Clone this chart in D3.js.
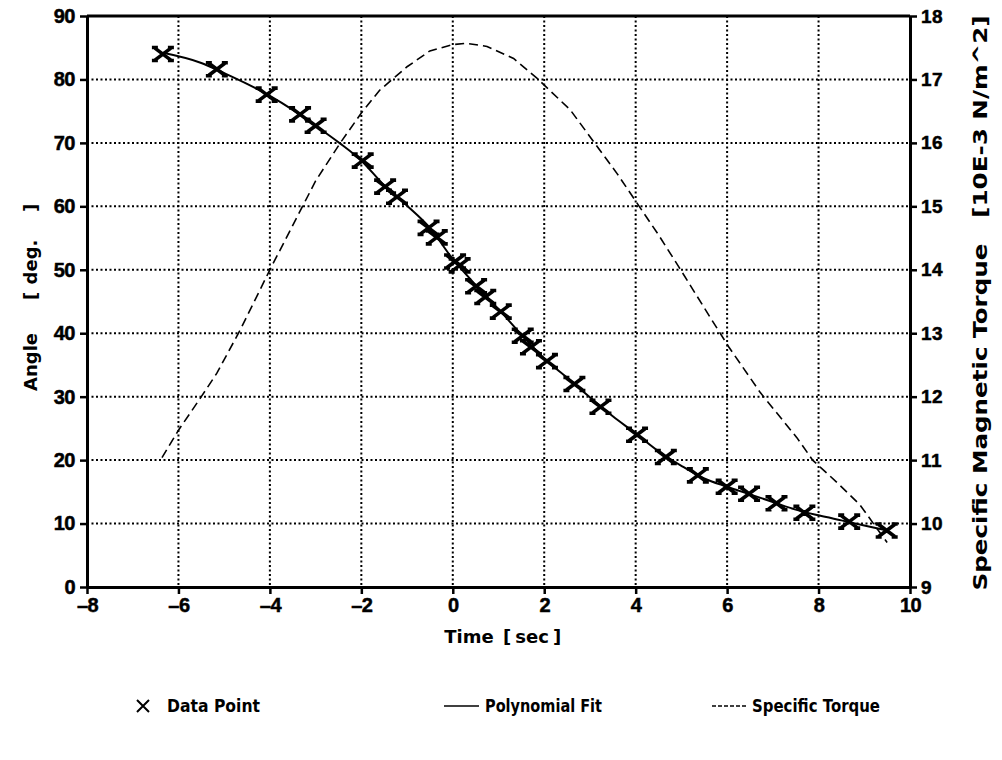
<!DOCTYPE html>
<html>
<head>
<meta charset="utf-8">
<script src="https://cdn.jsdelivr.net/npm/d3@7"></script>
<style>
  body { margin: 0; background: #fff; }
  svg { display: block; }
</style>
</head>
<body>
<svg id="chart" width="1002" height="760"></svg>
<script>
// measured points (angle vs time)
const dataTime  = [-6.34, -5.16, -4.07, -3.34, -3.0, -1.97, -1.48, -1.22, -0.53, -0.35, 0.05, 0.15, 0.51, 0.71, 1.05, 1.53, 1.71, 2.06, 2.66, 3.23, 4.03, 4.66, 5.36, 5.99, 6.48, 7.08, 7.69, 8.67, 9.49];
const dataAngle = [84.0, 81.6, 77.6, 74.5, 72.7, 67.2, 63.1, 61.5, 56.6, 55.1, 51.3, 50.7, 47.4, 45.7, 43.4, 39.6, 37.8, 35.6, 32.0, 28.4, 24.0, 20.5, 17.6, 15.8, 14.7, 13.2, 11.7, 10.3, 8.9];

// polynomial fit curve
const fitTime  = [-6.34, -5.5, -5, -4.5, -4, -3.5, -3, -2.5, -2, -1.5, -1, -0.5, 0, 0.5, 1, 1.5, 2, 2.5, 3, 3.5, 4, 4.5, 5, 5.5, 6, 6.5, 7, 7.5, 8, 8.5, 9, 9.5];
const fitAngle = [84.2, 82.6, 81.0, 79.3, 77.4, 75.2, 72.7, 70.1, 67.2, 63.3, 60.1, 56.6, 51.7, 47.6, 43.8, 39.8, 36.0, 33.0, 29.9, 26.9, 24.2, 21.4, 19.1, 17.1, 15.8, 14.6, 13.4, 12.2, 11.3, 10.5, 9.7, 8.9];

// specific magnetic torque (right axis)
const torqueTime = [-6.36, -6.0, -5.5, -5.16, -4.65, -4.0, -3.5, -3.0, -2.46, -2.0, -1.6, -1.0, -0.5, 0.0, 0.3, 0.75, 1.33, 1.84, 2.57, 3.08, 3.59, 4.03, 4.5, 4.94, 5.5, 6.03, 6.73, 7.53, 7.87, 8.4, 8.9, 9.5];
const torque     = [11.04, 11.47, 12.0, 12.37, 13.05, 14.0, 14.7, 15.4, 16.0, 16.47, 16.83, 17.2, 17.45, 17.55, 17.57, 17.52, 17.33, 17.02, 16.52, 16.02, 15.52, 15.05, 14.55, 14.05, 13.4, 12.79, 12.06, 11.35, 11.0, 10.65, 10.3, 9.7];

const xTicks = [-8, -6, -4, -2, 0, 2, 4, 6, 8, 10];
const yTicks = [0, 10, 20, 30, 40, 50, 60, 70, 80, 90];
const y2Ticks = [9, 10, 11, 12, 13, 14, 15, 16, 17, 18];

const svg = d3.select('#chart');
const pLeft = 87, pRight = 910, pTop = 16, pBottom = 587;

const x = d3.scaleLinear().domain([-8, 10]).range([pLeft, pRight]);
const y = d3.scaleLinear().domain([0, 90]).range([pBottom, pTop]);
const y2 = d3.scaleLinear().domain([9, 18]).range([pBottom, pTop]);

const tickFont = '"Liberation Sans", Arial, sans-serif';
const labelFont = '"DejaVu Sans", sans-serif';

// grid
const grid = svg.append('g').attr('stroke', '#000').attr('stroke-width', 2).attr('stroke-dasharray', '2,2.5');
grid.selectAll('.gx').data(xTicks.slice(1, -1)).join('line')
  .attr('x1', d => x(d)).attr('x2', d => x(d)).attr('y1', pTop).attr('y2', pBottom);
grid.selectAll('.gy').data(yTicks.slice(1, -1)).join('line')
  .attr('x1', pLeft).attr('x2', pRight).attr('y1', d => y(d)).attr('y2', d => y(d));

// axes
function styleAxis(g, size, spacing) {
  g.select('.domain').attr('stroke-width', 3);
  g.selectAll('.tick line').attr('stroke-width', 2.5);
  g.selectAll('.tick text').style('font-family', tickFont).style('font-weight', 'bold')
    .style('font-size', size + 'px').style('letter-spacing', spacing + 'px')
    .attr('fill', '#000').attr('stroke', '#000').attr('stroke-width', 0.5);
}

svg.append('g').attr('transform', `translate(0,${pBottom})`)
  .call(d3.axisBottom(x).tickValues(xTicks).tickSize(7).tickSizeOuter(0).tickPadding(4)
    .tickFormat(d => d < 0 ? '\u2013' + Math.abs(d) : d))
  .call(g => styleAxis(g, 20, -0.5));

svg.append('g').attr('transform', `translate(${pLeft},0)`)
  .call(d3.axisLeft(y).tickValues(yTicks).tickSize(7).tickSizeOuter(0).tickPadding(5))
  .call(g => styleAxis(g, 20, -0.5));

svg.append('g').attr('transform', `translate(${pRight},0)`)
  .call(d3.axisRight(y2).tickValues(y2Ticks).tickSize(7).tickSizeOuter(0).tickPadding(4))
  .call(g => styleAxis(g, 19, 0.5));

// top frame
svg.append('line').attr('x1', pLeft).attr('x2', pRight).attr('y1', pTop).attr('y2', pTop)
  .attr('stroke', '#000').attr('stroke-width', 3);

// torque dashed line
svg.append('path')
  .datum(torqueTime.map((t, i) => [t, torque[i]]))
  .attr('fill', 'none').attr('stroke', '#000').attr('stroke-width', 1.6)
  .attr('stroke-dasharray', '9,5')
  .attr('d', d3.line().x(d => x(d[0])).y(d => y2(d[1])));

// polynomial fit
svg.append('path')
  .datum(fitTime.map((t, i) => [t, fitAngle[i]]))
  .attr('fill', 'none').attr('stroke', '#000').attr('stroke-width', 2)
  .attr('d', d3.line().curve(d3.curveMonotoneX).x(d => x(d[0])).y(d => y(d[1])));

// markers
const marker = 'M-8,-6L8,6M-8,6L8,-6M-11,-6.5L-5,-6.5M5,-6.5L11,-6.5M-11,6.5L-5,6.5M5,6.5L11,6.5';
svg.append('g').selectAll('path').data(dataTime.map((t, i) => [t, dataAngle[i]])).join('path')
  .attr('transform', d => `translate(${x(d[0])},${y(d[1])})`)
  .attr('d', marker).attr('fill', 'none').attr('stroke', '#000').attr('stroke-width', 3.6);

// axis titles, laid out word by word like the original plotter output
function piece(g, txt, pos, size) {
  return g.append('text').attr('x', pos).attr('y', 0).attr('text-anchor', 'middle')
    .attr('font-family', labelFont).attr('font-size', size || 18).attr('font-weight', 'bold')
    .attr('fill', '#000').attr('xml:space', 'preserve').text(txt);
}

const tTitle = svg.append('g').attr('transform', 'translate(0,643)');
piece(tTitle, 'Time', 469);
piece(tTitle, '[', 507);
piece(tTitle, 'sec', 532);
piece(tTitle, ']', 557);

// rotated: local x = -(page y)
const aTitle = svg.append('g').attr('transform', 'translate(37,0) rotate(-90)');
piece(aTitle, 'Angle', -362);
piece(aTitle, '[', -296);
piece(aTitle, 'deg.', -262);
piece(aTitle, ']', -208);

const sTitle = svg.append('g').attr('transform', 'translate(987,0) rotate(-90)');
piece(sTitle, 'Specific Magnetic Torque   [10E-3 N/m^2]', -303, 19)
  .attr('textLength', 575).attr('lengthAdjust', 'spacingAndGlyphs');

// legend
const lg = svg.append('g').attr('font-family', labelFont).attr('font-size', 17).attr('font-weight', 'bold');
lg.append('path').attr('transform', 'translate(143,706)')
  .attr('d', 'M-6,-6L6,6M-6,6L6,-6').attr('stroke', '#000').attr('stroke-width', 2);
lg.append('text').attr('x', 167).attr('y', 712).attr('textLength', 93).attr('lengthAdjust', 'spacingAndGlyphs').text('Data Point');
lg.append('line').attr('x1', 444).attr('x2', 479).attr('y1', 706).attr('y2', 706)
  .attr('stroke', '#000').attr('stroke-width', 1.5);
lg.append('text').attr('x', 485).attr('y', 712).attr('textLength', 117).attr('lengthAdjust', 'spacingAndGlyphs').text('Polynomial Fit');
lg.append('line').attr('x1', 712).attr('x2', 747).attr('y1', 706).attr('y2', 706)
  .attr('stroke', '#000').attr('stroke-width', 1.5).attr('stroke-dasharray', '4,2');
lg.append('text').attr('x', 752).attr('y', 712).attr('textLength', 128).attr('lengthAdjust', 'spacingAndGlyphs').text('Specific Torque');
</script>
</body>
</html>
